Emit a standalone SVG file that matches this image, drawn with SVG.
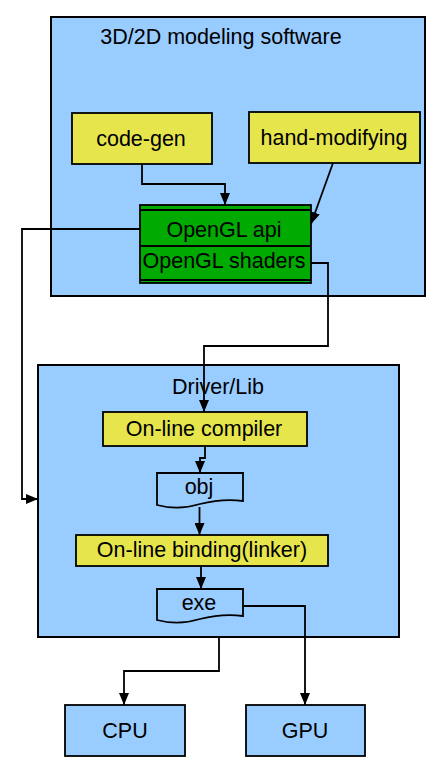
<svg xmlns="http://www.w3.org/2000/svg" width="446" height="782" viewBox="0 0 446 782">
<defs>
<marker id="arr" markerUnits="userSpaceOnUse" markerWidth="12" markerHeight="10" refX="12" refY="5" orient="auto">
<path d="M0,0 L12,5 L0,10 z" fill="#000"/>
</marker>
<style>
.cont{fill:#99ccff;stroke:#000;stroke-width:2}
.box{fill:#e6e64c;stroke:#000;stroke-width:1.8}
.blue{fill:#99ccff;stroke:#000;stroke-width:1.8}
.green{fill:#00aa00;stroke:#000;stroke-width:1.8}
.ln{fill:none;stroke:#000;stroke-width:1.8}
text{font-family:"Liberation Sans",Arial,sans-serif;font-size:21.5px;fill:#000;text-anchor:middle}
.conn path{fill:none;stroke:#000;stroke-width:1.8;marker-end:url(#arr)}
</style>
</defs>
<rect width="446" height="782" fill="#fff"/>
<g id="modeling">
<rect class="cont" x="51" y="17" width="374" height="279"/>
<text x="221" y="44">3D/2D modeling software</text>
</g>
<g id="driver">
<rect class="cont" x="38" y="365" width="361" height="272"/>
<text x="218" y="394">Driver/Lib</text>
</g>
<g id="codegen">
<rect class="box" x="72" y="113" width="140" height="51"/>
<text x="141" y="146">code-gen</text>
</g>
<g id="handmod">
<rect class="box" x="249" y="112" width="171" height="51"/>
<text x="334" y="145">hand-modifying</text>
</g>
<g id="opengl">
<rect class="green" x="140" y="205" width="171" height="78"/>
<line class="ln" x1="140" y1="210" x2="311" y2="210"/>
<line class="ln" x1="140" y1="246" x2="311" y2="246"/>
<line class="ln" x1="140" y1="280" x2="311" y2="280"/>
<text x="224" y="237">OpenGL api</text>
<text x="224" y="268">OpenGL shaders</text>
</g>
<g id="compiler">
<rect class="box" x="103" y="412" width="204" height="34"/>
<text x="204" y="436">On-line compiler</text>
</g>
<g id="obj">
<path class="blue" d="M157,473 H243 V501 C228,499 212,501 200,504 C184,509 168,508 157,505 Z"/>
<text x="199" y="494">obj</text>
</g>
<g id="binding">
<rect class="box" x="76" y="535" width="252" height="31"/>
<text x="202" y="557">On-line binding(linker)</text>
</g>
<g id="exe">
<path class="blue" d="M157,589 H243 V616 C228,614 212,616 200,619 C184,624 168,623 157,620 Z"/>
<text x="199" y="610">exe</text>
</g>
<g id="cpu">
<rect class="blue" x="65" y="705" width="120" height="51"/>
<text x="125" y="738">CPU</text>
</g>
<g id="gpu">
<rect class="blue" x="246" y="705" width="119" height="51"/>
<text x="305" y="738">GPU</text>
</g>
<g id="connectors" class="conn">
<path d="M142,164 V184 H225 V205"/>
<path d="M333,163 L311,224"/>
<path d="M140,229 H22 V499 H38"/>
<path d="M311,263 H328 V346 H204 V412"/>
<path d="M205,446 V458 H200 V473"/>
<path d="M199.5,507 V535"/>
<path d="M201,566 V589"/>
<path d="M243,606 H305 V705"/>
<path d="M219,637 V671 H124 V705"/>
</g>
</svg>
